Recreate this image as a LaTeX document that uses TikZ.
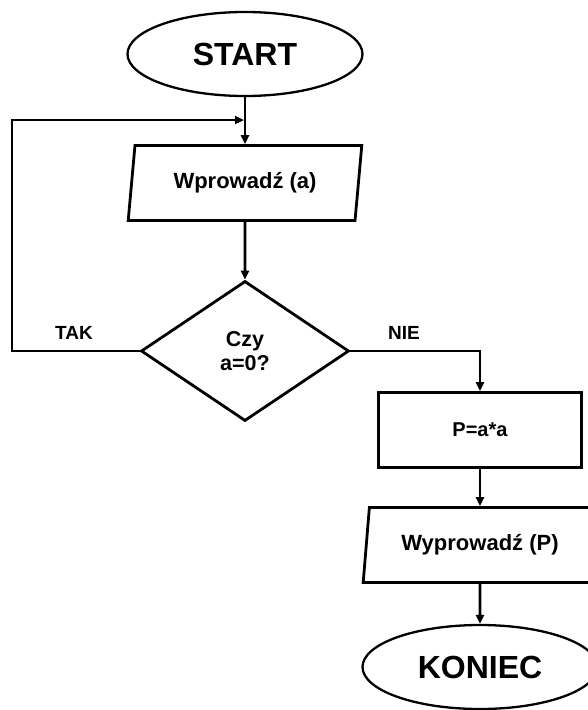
\documentclass[tikz,border=0pt]{standalone}
\usepackage{fontspec}
\setmainfont{Liberation Sans}
\usetikzlibrary{arrows.meta,shapes.geometric}
\tikzset{
    >={Triangle[length=9pt,width=8pt]},
    every picture/.style={line width=2.8pt},
    term/.style={ellipse,draw,line width=2.3pt,minimum width=235pt,minimum height=84pt,inner sep=0pt,font=\bfseries\fontsize{32}{38}\selectfont},
    io/.style={trapezium,trapezium left angle=78,trapezium right angle=102,trapezium stretches=true,draw,minimum width=234pt,minimum height=75pt,inner sep=0pt,font=\bfseries\fontsize{22}{26}\selectfont},
    decision/.style={diamond,draw,minimum width=208pt,minimum height=140pt,inner sep=0pt,align=center,font=\bfseries\fontsize{21.5}{24}\selectfont},
    process/.style={rectangle,draw,minimum width=203pt,minimum height=75pt,font=\bfseries\fontsize{20}{24}\selectfont},
    answer/.style={font=\bfseries\fontsize{19}{22}\selectfont}
}
\begin{document}
\begin{tikzpicture}[x=1pt,y=-1pt]
    \useasboundingbox (0,0) rectangle (587,710);
    \node[term] (start) at (245,54) {START};
    \node[io] (in) at (245,183) {Wprowadź (a)};
    \node[decision] (dec) at (245,351) {Czy\\a=0?};
    \node[process] (calc) at (480,430) {P=a*a};
    \node[io] (out) at (480,545) {Wyprowadź (P)};
    \node[term] (stop) at (480,667) {KONIEC};
    \coordinate (join) at (244,120);
    \coordinate (back) at (12,120);
    \draw[->] (start) -- (in);
    \draw[->] (in) -- (dec);
    \draw[->] (dec.west) -- (back |- dec.west) -- (back) -- (join);
    \draw[->] (dec.east) -| (calc.north);
    \draw[->] (calc) -- (out);
    \draw[->] (out) -- (stop);
    \node[answer] (tak) at (74,333) {TAK};
    \node[answer] (nie) at (404,333) {NIE};
\end{tikzpicture}
\end{document}
